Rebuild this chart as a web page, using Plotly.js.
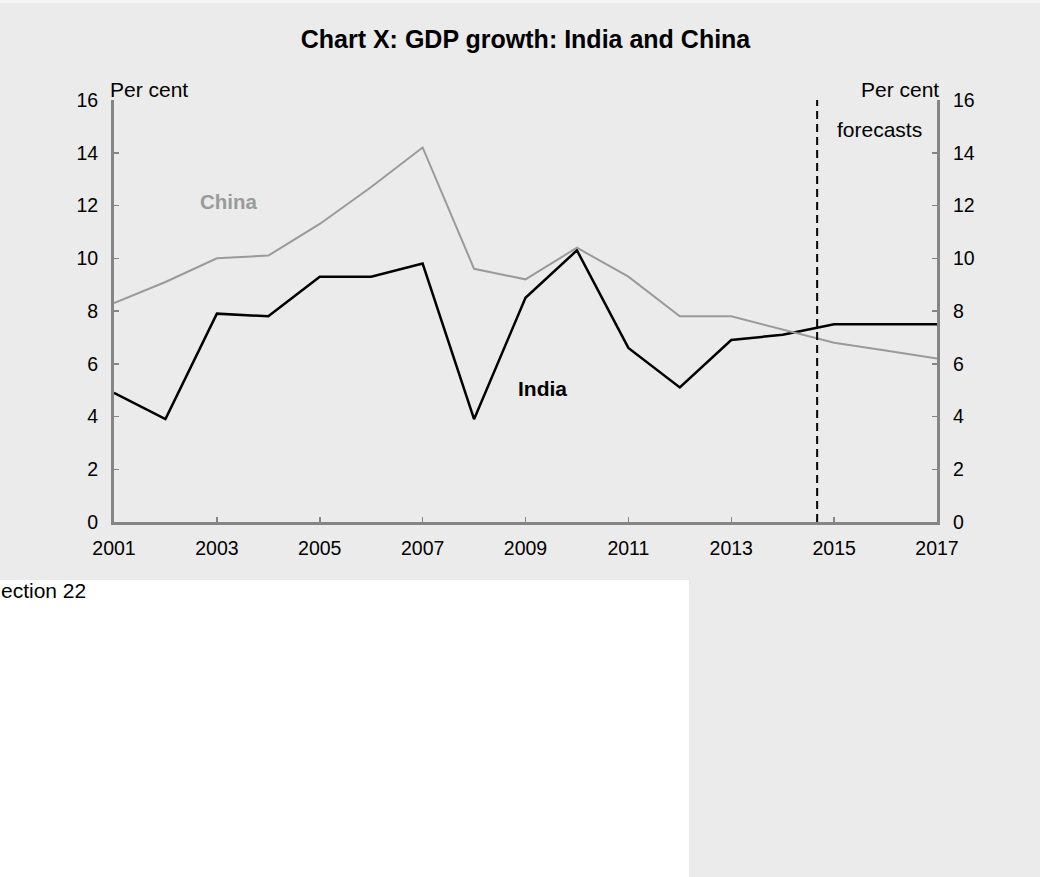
<!DOCTYPE html>
<html>
<head>
<meta charset="utf-8">
<script src="https://cdn.plot.ly/plotly-3.0.1.min.js"></script>
<style>html,body{margin:0;padding:0;background:#fff;}</style>
</head>
<body>
<div id="chart" style="width:1040px;height:877px;"></div>
<script>
const years = [2001,2002,2003,2004,2005,2006,2007,2008,2009,2010,2011,2012,2013,2014,2015,2016,2017];
const china = [8.3,9.1,10.0,10.1,11.3,12.7,14.2,9.6,9.2,10.4,9.3,7.8,7.8,7.3,6.8,6.5,6.2];
const india = [4.9,3.9,7.9,7.8,9.3,9.3,9.8,3.9,8.5,10.3,6.6,5.1,6.9,7.1,7.5,7.5,7.5];
const xTicks = [2001,2003,2005,2007,2009,2011,2013,2015,2017];
const forecastStart = 2014.67;

const FONT = "'Liberation Sans', Arial, sans-serif";
const BG = '#ebebeb';
const AX = '#858585';

const traces = [
  {x: years, y: china, type: 'scatter', mode: 'lines', name: 'China',
   line: {color: '#9a9a9a', width: 2}, yaxis: 'y2', hoverinfo: 'x+y'},
  {x: years, y: india, type: 'scatter', mode: 'lines', name: 'India',
   line: {color: '#000000', width: 2.5}, hoverinfo: 'x+y'}
];

const yCommon = {
  range: [0, 16], dtick: 2, tick0: 0, ticks: 'inside', ticklen: 5, tickwidth: 1.5,
  tickcolor: AX, showline: true, linecolor: AX, linewidth: 3, showgrid: false,
  zeroline: false, tickfont: {family: FONT, size: 19.5, color: '#000'}, fixedrange: true,
  ticklabelstandoff: 9
};

const layout = {
  width: 1040, height: 877,
  margin: {l: 114, r: 103, t: 100, b: 355},
  paper_bgcolor: BG, plot_bgcolor: BG,
  showlegend: false,
  font: {family: FONT, size: 19, color: '#000'},
  title: {text: '<b>Chart X: GDP growth: India and China</b>', x: 0.5, xref: 'paper',
          y: 1 - 39/877, yref: 'container', yanchor: 'middle',
          font: {family: FONT, size: 25, color: '#000'}},
  xaxis: {range: [2001, 2017], tickvals: xTicks, ticktext: xTicks.map(String),
          ticks: 'inside', ticklen: 5, tickwidth: 1.5, tickcolor: AX,
          showline: true, linecolor: AX, linewidth: 3, showgrid: false, zeroline: false,
          tickfont: {family: FONT, size: 19.5, color: '#000'}, fixedrange: true,
          ticklabelstandoff: 7},
  yaxis: Object.assign({side: 'left'}, yCommon),
  yaxis2: Object.assign({side: 'right', overlaying: 'y'}, yCommon),
  shapes: [
    {type: 'rect', xref: 'paper', yref: 'paper', x0: -0.2, x1: (689-114)/823,
     y0: -1, y1: (522-580)/422, fillcolor: '#ffffff', line: {width: 0}, layer: 'below'},
    {type: 'rect', xref: 'paper', yref: 'paper', x0: -0.2, x1: 1.2,
     y0: (522-3)/422, y1: 1.4, fillcolor: '#f6f6f6', line: {width: 0}, layer: 'below'},
    {type: 'line', xref: 'x', yref: 'y', x0: forecastStart, x1: forecastStart, y0: 0, y1: 16.1,
     line: {color: '#000', width: 2, dash: '8px,5px'}}
  ],
  annotations: [
    {text: 'Per cent', xref: 'paper', yref: 'paper', x: (108-114)/823, y: (522-89)/422,
     xanchor: 'left', yanchor: 'middle', showarrow: false, font: {size: 21}},
    {text: 'Per cent', xref: 'paper', yref: 'paper', x: (941-114)/823, y: (522-89)/422,
     xanchor: 'right', yanchor: 'middle', showarrow: false, font: {size: 21}},
    {text: 'forecasts', xref: 'paper', yref: 'paper', x: (835-114)/823, y: (522-130)/422,
     xanchor: 'left', yanchor: 'middle', showarrow: false, font: {size: 21}},
    {text: '<b>China</b>', xref: 'x', yref: 'y', x: 2003.23, y: 12.17,
     xanchor: 'center', yanchor: 'middle', showarrow: false, font: {size: 20.5, color: '#9a9a9a'}},
    {text: '<b>India</b>', xref: 'x', yref: 'y', x: 2009.33, y: 5.08,
     xanchor: 'center', yanchor: 'middle', showarrow: false, font: {size: 21, color: '#000'}},
    {text: 'ection 22', xref: 'paper', yref: 'paper', x: (-1-114)/823, y: (522-590)/422,
     xanchor: 'left', yanchor: 'middle', showarrow: false, font: {size: 21, color: '#000'}}
  ]
};

Plotly.newPlot('chart', traces, layout, {displayModeBar: false, staticPlot: true});
</script>
</body>
</html>
